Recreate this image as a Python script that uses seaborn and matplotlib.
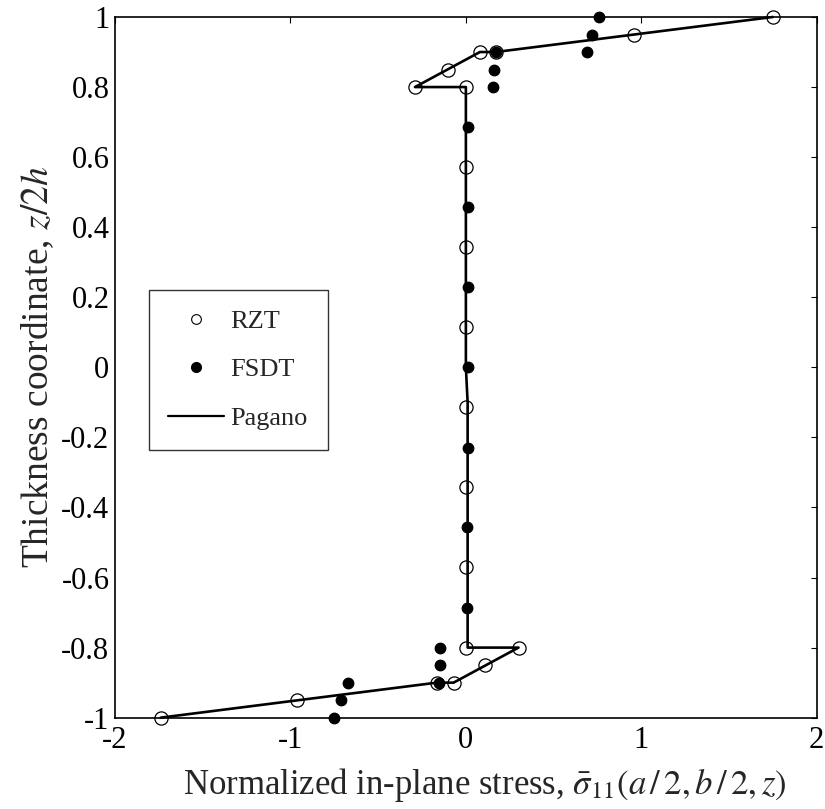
import matplotlib
matplotlib.use("Agg")
import matplotlib.pyplot as plt
import seaborn as sns
import pandas as pd
from matplotlib.lines import Line2D

# Pagano exact solution (stress, thickness coordinate)
pagano_x = [1.75, 0.17, 0.08, -0.29, 0.0, 0.0, 0.01, 0.01, 0.30, -0.07, -0.165, -1.74]
pagano_z = [1.0, 0.9, 0.9, 0.8, 0.8, 0.0, -0.1, -0.8, -0.8, -0.9, -0.9, -1.0]

# RZT results
rzt_x = [1.75, 0.96, 0.17, 0.08, -0.10, -0.29, 0.0, 0.0, 0.0, 0.0, 0.0, 0.0, 0.0,
         0.0, 0.30, 0.11, -0.07, -0.165, -0.96, -1.74]
rzt_z = [1.0, 0.95, 0.9, 0.9, 0.85, 0.8, 0.8, 0.571, 0.343, 0.114, -0.114, -0.343,
         -0.571, -0.8, -0.8, -0.85, -0.9, -0.9, -0.95, -1.0]

# FSDT results
fsdt_x = [0.76, 0.72, 0.69, 0.17, 0.16, 0.155, 0.01, 0.01, 0.01, 0.01, 0.01, 0.005,
          0.005, -0.145, -0.15, -0.155, -0.67, -0.71, -0.75]
fsdt_z = [1.0, 0.95, 0.9, 0.9, 0.85, 0.8, 0.686, 0.457, 0.229, 0.0, -0.229, -0.457,
          -0.686, -0.8, -0.85, -0.9, -0.9, -0.95, -1.0]

xticks = [-2, -1, 0, 1, 2]
xticklabels = ["-2", "-1", "0", "1", "2"]
yticks = [-1, -0.8, -0.6, -0.4, -0.2, 0, 0.2, 0.4, 0.6, 0.8, 1]
yticklabels = ["-1", "-0.8", "-0.6", "-0.4", "-0.2", "0", "0.2", "0.4", "0.6", "0.8", "1"]

sns.set_style("white")
plt.rcParams["font.family"] = ["Liberation Serif", "DejaVu Serif"]
plt.rcParams["mathtext.fontset"] = "stix"
plt.rcParams["axes.unicode_minus"] = False

df_pag = pd.DataFrame({"x": pagano_x, "z": pagano_z})
df_rzt = pd.DataFrame({"x": rzt_x, "z": rzt_z})
df_fsdt = pd.DataFrame({"x": fsdt_x, "z": fsdt_z})

fig = plt.figure(figsize=(8.25, 8.09), dpi=100)
ax = fig.add_axes([0.1394, 0.1129, 0.8506, 0.8661])

sns.lineplot(data=df_pag, x="x", y="z", sort=False, estimator=None,
             color="black", linewidth=1.9, ax=ax, clip_on=False)
ax.plot(df_rzt["x"], df_rzt["z"], linestyle="none", marker="o", markersize=9.5,
        markerfacecolor="none", markeredgecolor="black", markeredgewidth=0.9,
        clip_on=False)
ax.plot(df_fsdt["x"], df_fsdt["z"], linestyle="none", marker="o", markersize=7.5,
        markerfacecolor="black", markeredgecolor="black", clip_on=False)

ax.set_xlim(-2, 2)
ax.set_ylim(-1, 1)
ax.set_xticks(xticks)
ax.set_xticklabels(xticklabels)
ax.set_yticks(yticks)
ax.set_yticklabels(yticklabels)
ax.tick_params(direction="in", length=4, width=0.8, top=True, right=True,
               labelsize=22, pad=4, colors="black")
ax.tick_params(axis="x", pad=6)
for s in ax.spines.values():
    s.set_color("black")
    s.set_linewidth(1.2)

ax.set_xlabel(r"Normalized in-plane stress, $\bar{\sigma}_{11}(a\,/\,2,b\,/\,2,z)$",
              fontsize=25, labelpad=8, x=0.527)
ax.set_ylabel(r"Thickness coordinate, $z/2h$", fontsize=27, labelpad=4)

handles = [
    Line2D([], [], linestyle="none", marker="o", markersize=7, markerfacecolor="none",
           markeredgecolor="black", markeredgewidth=0.8, label="RZT"),
    Line2D([], [], linestyle="none", marker="o", markersize=7, markerfacecolor="black",
           markeredgecolor="black", label="FSDT"),
    Line2D([], [], color="black", linewidth=1.6, label="Pagano"),
]
leg = ax.legend(handles=handles, loc="upper left", bbox_to_anchor=(0.048, 0.611),
                fontsize=19, frameon=True, fancybox=False, edgecolor="black",
                handlelength=2.1, labelspacing=0.95, borderpad=0.75, handletextpad=0.25,
                borderaxespad=0)
leg.get_frame().set_linewidth(1.0)

fig.savefig("out.png", dpi=100)
